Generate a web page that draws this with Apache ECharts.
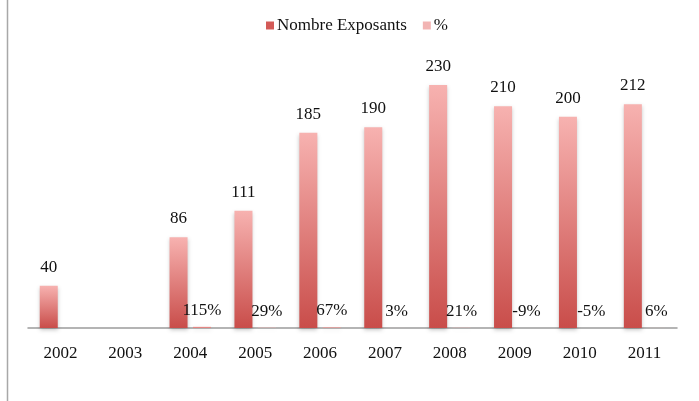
<!DOCTYPE html>
<html>
<head>
<meta charset="utf-8">
<script src="https://cdn.jsdelivr.net/npm/echarts@6/dist/echarts.min.js"></script>
<style>
  html, body { margin: 0; padding: 0; background: #fff; }
  #chart { width: 699px; height: 401px; }
</style>
</head>
<body>
<div id="chart"></div>
<script>
// données
const years = ['2002', '2003', '2004', '2005', '2006', '2007', '2008', '2009', '2010', '2011'];
const exposants = [40, null, 86, 111, 185, 190, 230, 210, 200, 212];
const pourcent = [null, null, 1.15, 0.29, 0.67, 0.03, 0.21, -0.09, -0.05, 0.06];

const FONT = '"Liberation Serif", serif';

let myChart = echarts.init(document.getElementById('chart'));

let option = {
  animation: false,
  legend: {
    left: 261,
    top: 12,
    itemWidth: 8,
    itemHeight: 8,
    itemGap: 16,
    textStyle: { fontFamily: FONT, fontSize: 17, color: '#111', padding: [0, 0, 0, -2] },
    data: [
      { name: 'Nombre Exposants', icon: 'rect', itemStyle: { color: '#d35a57' } },
      { name: '%', icon: 'rect', itemStyle: { color: '#f2b4b3' } }
    ]
  },
  grid: { left: 28, right: 22, top: 64, bottom: 73 },
  xAxis: {
    type: 'category',
    data: years,
    axisLine: { lineStyle: { color: '#9c9c9c', width: 1.5 } },
    axisTick: { show: false },
    axisLabel: { fontFamily: FONT, fontSize: 17, color: '#111', margin: 17 }
  },
  yAxis: {
    type: 'value',
    min: 0,
    max: 250,
    show: false,
    splitLine: { show: false }
  },
  graphic: [
    {
      type: 'line',
      shape: { x1: 7.5, y1: 0, x2: 7.5, y2: 401 },
      style: { stroke: '#a8a8a8', lineWidth: 1.5 }
    }
  ],
  series: [
    {
      name: 'Nombre Exposants',
      type: 'bar',
      data: exposants,
      barWidth: 18,
      barGap: '30%',
      itemStyle: {
        color: new echarts.graphic.LinearGradient(0, 0, 0, 1, [
          { offset: 0, color: '#f7b2b0' },
          { offset: 1, color: '#c94d4a' }
        ]),
        shadowColor: 'rgba(0,0,0,0.22)',
        shadowBlur: 4,
        shadowOffsetY: 2
      },
      label: {
        show: true,
        position: 'top',
        distance: 10,
        fontFamily: FONT,
        fontSize: 17,
        color: '#111'
      }
    },
    {
      name: '%',
      type: 'bar',
      data: pourcent,
      barWidth: 18,
      itemStyle: {
        color: new echarts.graphic.LinearGradient(0, 0, 0, 1, [
          { offset: 0, color: '#f6aeac' },
          { offset: 1, color: '#d66a67' }
        ]),
        shadowColor: 'rgba(0,0,0,0.15)',
        shadowBlur: 4,
        shadowOffsetY: 2
      },
      label: {
        show: true,
        position: 'top',
        distance: 8,
        fontFamily: FONT,
        fontSize: 17,
        color: '#111',
        formatter: (p) => Math.round(p.value * 100) + '%'
      }
    }
  ]
};

myChart.setOption(option);
</script>
</body>
</html>
